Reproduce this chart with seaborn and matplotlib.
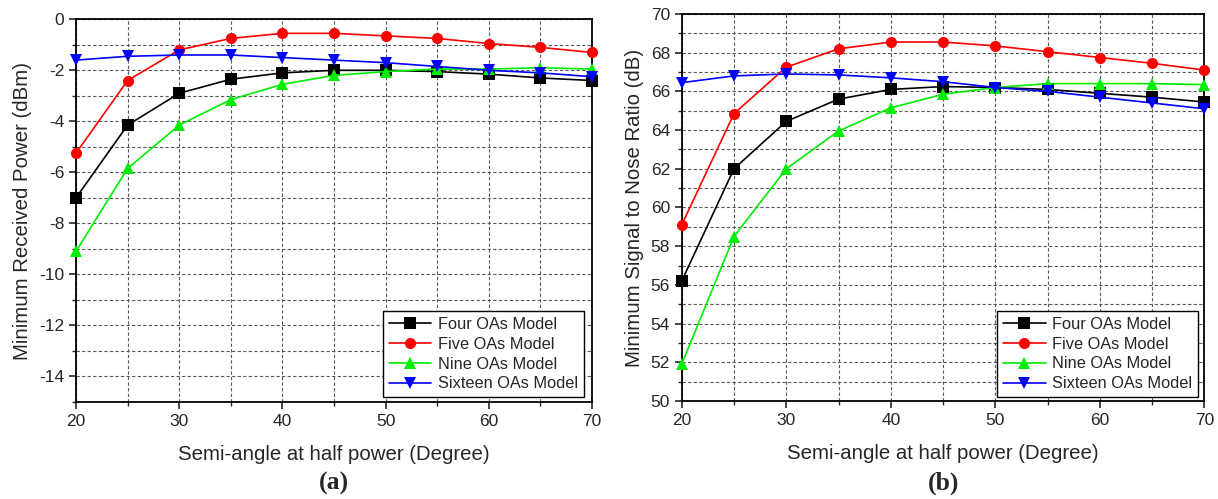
import numpy as np
import pandas as pd
import matplotlib
matplotlib.use("Agg")
import matplotlib.pyplot as plt
from matplotlib.ticker import MultipleLocator
import seaborn as sns

angles = [20, 25, 30, 35, 40, 45, 50, 55, 60, 65, 70]
series_names = ["Four OAs Model", "Five OAs Model", "Nine OAs Model", "Sixteen OAs Model"]

power_four = [-7.0, -4.15, -2.9, -2.35, -2.1, -2.0, -2.0, -2.05, -2.15, -2.3, -2.4]
power_five = [-5.25, -2.4, -1.2, -0.75, -0.55, -0.55, -0.65, -0.75, -0.95, -1.1, -1.3]
power_nine = [-9.1, -5.85, -4.15, -3.15, -2.55, -2.2, -2.05, -1.95, -1.95, -1.9, -1.95]
power_sixteen = [-1.6, -1.45, -1.4, -1.4, -1.5, -1.6, -1.7, -1.85, -2.0, -2.1, -2.25]

snr_four = [56.2, 62.0, 64.45, 65.6, 66.1, 66.25, 66.2, 66.1, 65.9, 65.7, 65.45]
snr_five = [59.1, 64.85, 67.25, 68.2, 68.55, 68.55, 68.35, 68.05, 67.75, 67.45, 67.1]
snr_nine = [51.9, 58.5, 62.0, 63.95, 65.15, 65.85, 66.2, 66.4, 66.4, 66.4, 66.35]
snr_sixteen = [66.45, 66.8, 66.9, 66.85, 66.7, 66.5, 66.2, 66.0, 65.7, 65.4, 65.1]

colors = ["#000000", "#ff0000", "#00ee00", "#0000ff"]
markers = ["s", "o", "^", "v"]

def long_df(vals):
    rows = []
    for name, v in zip(series_names, vals):
        for a, y in zip(angles, v):
            rows.append({"angle": a, "value": y, "series": name})
    return pd.DataFrame(rows)

df_power = long_df([power_four, power_five, power_nine, power_sixteen])
df_snr = long_df([snr_four, snr_five, snr_nine, snr_sixteen])

sns.set_style("white")
plt.rcParams["font.family"] = ["Liberation Sans", "DejaVu Sans"]
plt.rcParams["axes.unicode_minus"] = False

fig = plt.figure(figsize=(12.18, 4.99), dpi=100)
ax1 = fig.add_axes([0.0624, 0.1948, 0.4236, 0.7665])
ax2 = fig.add_axes([0.5597, 0.1964, 0.4292, 0.7756])

def draw(ax, df, ylim, ymajor, ylabel, sub, leg_bbox):
    sns.lineplot(data=df, x="angle", y="value", hue="series", style="series",
                 hue_order=series_names, style_order=series_names,
                 palette=colors, markers=markers, dashes=False,
                 markersize=8, markeredgewidth=0, linewidth=1.2, ax=ax, legend=False,
                 clip_on=False, zorder=3)
    ax.set_xlim(20, 70)
    ax.set_ylim(*ylim)
    ax.xaxis.set_major_locator(MultipleLocator(10))
    ax.xaxis.set_minor_locator(MultipleLocator(5))
    ax.yaxis.set_major_locator(MultipleLocator(ymajor))
    ax.yaxis.set_minor_locator(MultipleLocator(ymajor / 2))
    ax.grid(which="both", linestyle=(0, (3, 2)), color="0.35", linewidth=0.8)
    ax.set_axisbelow(True)
    ax.tick_params(which="major", direction="out", length=5, width=1.2,
                   labelsize=12.5, bottom=True, left=True, top=False, right=False)
    ax.tick_params(which="minor", direction="out", length=3, width=1.0,
                   bottom=True, left=True)
    for sp in ax.spines.values():
        sp.set_linewidth(1.3)
        sp.set_color("black")
    ax.set_xlabel("Semi-angle at half power (Degree)", fontsize=14.7, labelpad=12)
    ax.set_ylabel(ylabel, fontsize=14.7, labelpad=5)
    handles = [plt.Line2D([], [], color=c, marker=m, markersize=8, markeredgewidth=0,
                          linewidth=1.2) for c, m in zip(colors, markers)]
    leg = ax.legend(handles, series_names, loc="lower right", bbox_to_anchor=leg_bbox,
                    fontsize=11.8, frameon=True, fancybox=False, edgecolor="black",
                    framealpha=1, handlelength=2.6, handletextpad=0.4,
                    labelspacing=0.3, borderpad=0.35, borderaxespad=0)
    leg.get_frame().set_linewidth(1.0)
    pos = ax.get_position()
    fig.text((pos.x0 + pos.x1) / 2, 0.018, sub, ha="center", va="baseline",
             fontsize=18.5, fontweight="bold", family="Liberation Serif")

draw(ax1, df_power, (-15, 0), 2, "Minimum Received Power (dBm)", "(a)", (0.984, 0.012))
draw(ax2, df_snr, (50, 70), 2, "Minimum Signal to Nose Ratio (dB)", "(b)", (0.988, 0.01))

fig.savefig("out.png", dpi=100)
